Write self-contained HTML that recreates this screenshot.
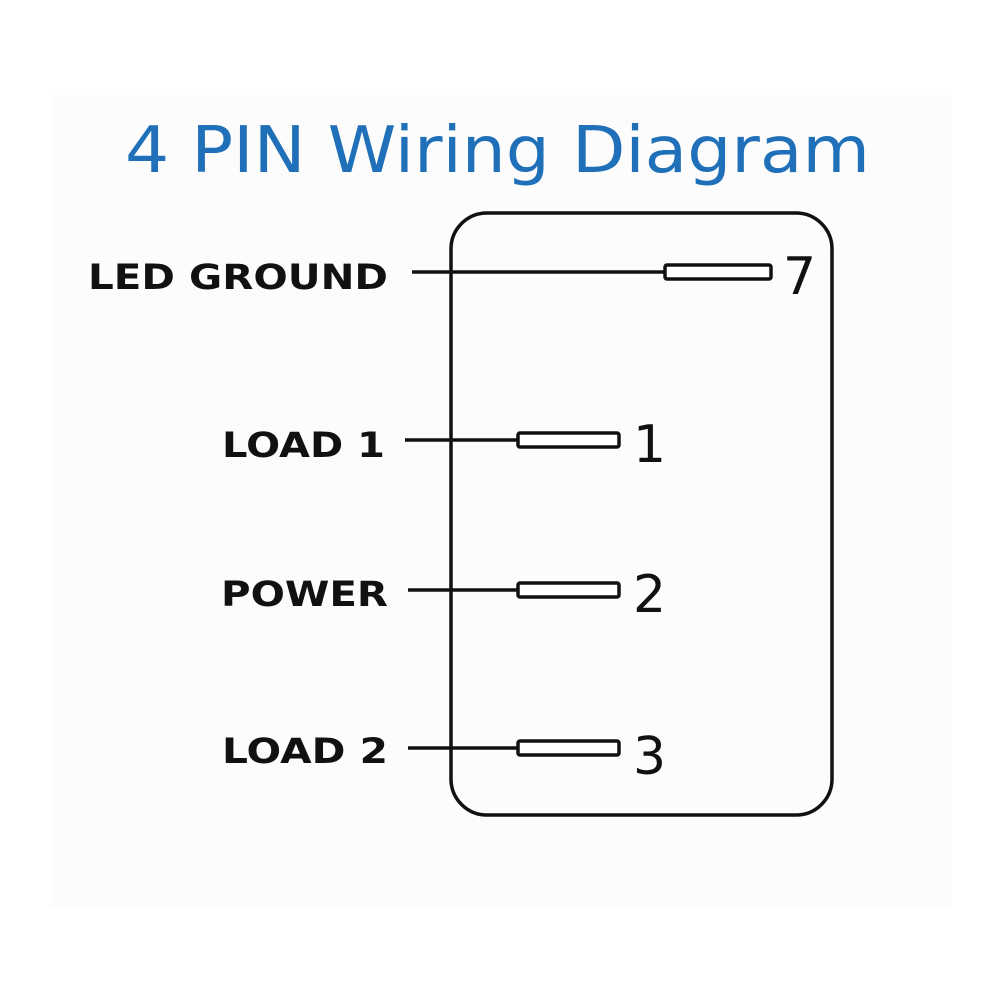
<!DOCTYPE html>
<html><head><style>body{margin:0;background:#fff}</style></head><body>
<svg width="1000" height="1000" xmlns="http://www.w3.org/2000/svg">
<rect x="0" y="0" width="1000" height="1000" fill="#fff"/>
<rect x="51" y="95" width="901" height="812" fill="#fcfcfc"/>
<text x="125" y="172" font-family="DejaVu Sans, Liberation Sans, sans-serif" font-size="64" fill="#1f70b8" textLength="745" lengthAdjust="spacingAndGlyphs">4 PIN Wiring Diagram</text>
<rect x="451" y="213" width="381" height="602" rx="36" fill="none" stroke="#111" stroke-width="3.5"/>
<g stroke="#111" stroke-width="3.5" fill="#fff">
<line x1="412" y1="272" x2="665" y2="272"/><rect x="665" y="265" width="106" height="14" rx="2"/>
<line x1="405" y1="440" x2="518" y2="440"/><rect x="518" y="433" width="101" height="14" rx="2"/>
<line x1="408" y1="590" x2="518" y2="590"/><rect x="518" y="583" width="101" height="14" rx="2"/>
<line x1="408" y1="748" x2="518" y2="748"/><rect x="518" y="741" width="101" height="14" rx="2"/>
</g>
<g font-family="DejaVu Sans, Liberation Sans, sans-serif" font-size="52" fill="#111">
<text x="783" y="294">7</text>
<text x="633" y="462">1</text>
<text x="633" y="612">2</text>
<text x="633" y="774">3</text>
</g>
<g font-family="DejaVu Sans, Liberation Sans, sans-serif" font-weight="bold" font-size="35" fill="#111">
<text x="88" y="289" textLength="300" lengthAdjust="spacingAndGlyphs">LED GROUND</text>
<text x="222" y="457" textLength="163" lengthAdjust="spacingAndGlyphs">LOAD 1</text>
<text x="221" y="606" textLength="167" lengthAdjust="spacingAndGlyphs">POWER</text>
<text x="222" y="763" textLength="166" lengthAdjust="spacingAndGlyphs">LOAD 2</text>
</g>
</svg>
</body></html>
